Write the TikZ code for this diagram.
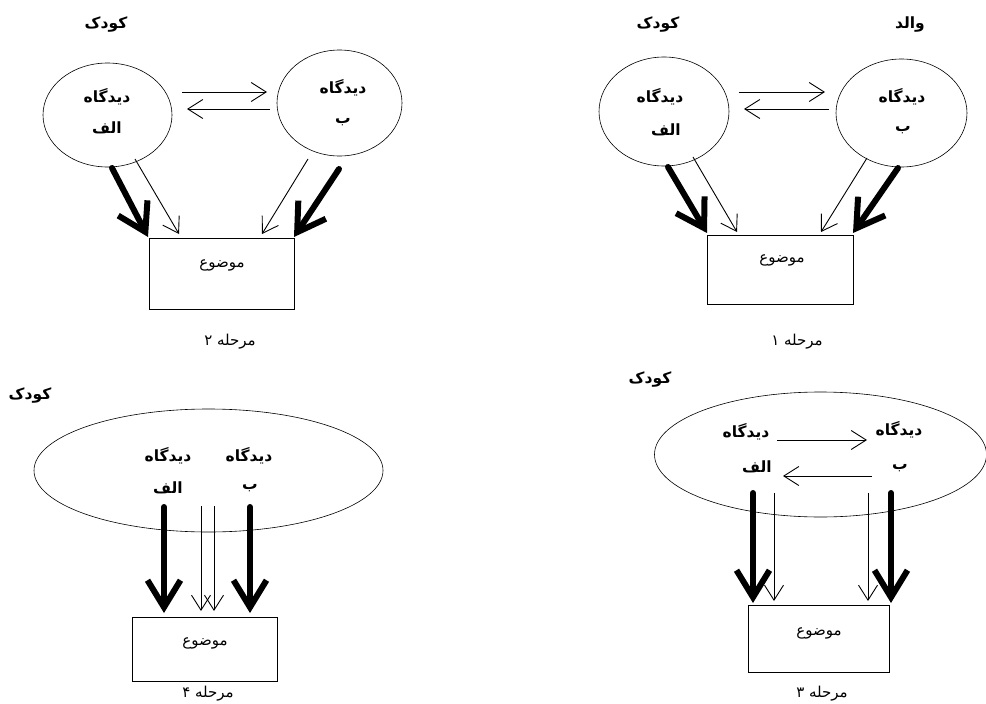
\documentclass[tikz,border=0pt]{standalone}
\usepackage{fontspec}
\newfontfamily\arabicfont[Script=Arabic]{DejaVu Sans}
\TeXXeTstate=1
\usetikzlibrary{arrows.meta,shapes.geometric}
\newcommand{\fatext}[1]{\arabicfont\beginR #1\endR}

\begin{document}
\begin{tikzpicture}[x=1pt,y=-1pt,
    thinarr/.style={line width=0.9pt,-{Straight Barb[length=15pt,width=19pt]}},
    thickarr/.style={line width=6pt,line cap=round,line join=round,
      -{Straight Barb[length=27pt,width=33pt]}}]

      \useasboundingbox (0,0) rectangle (986,704);

      \begin{scope}[every node/.style={ellipse,draw,line width=0.6pt,inner sep=0pt}]
        \node[minimum width=129pt,minimum height=104pt] (a2) at (107.5,115) {};
        \node[minimum width=125pt,minimum height=106pt] (b2) at (339.5,103) {};
        \node[minimum width=130pt,minimum height=109pt] (a1) at (664,111.5) {};
        \node[minimum width=131pt,minimum height=108pt] (b1) at (901.5,113) {};
        \node[minimum width=349pt,minimum height=123pt] (e4) at (208.5,470.5) {};
        \node[minimum width=332pt,minimum height=125pt] (e3) at (820.5,454.5) {};
      \end{scope}

      \begin{scope}[every node/.style={rectangle,draw,line width=0.6pt,inner sep=0pt}]
        \node[minimum width=145pt,minimum height=71pt] (o2) at (221.5,273.5) {};
        \node[minimum width=146pt,minimum height=69pt] (o1) at (780,269.5) {};
        \node[minimum width=145pt,minimum height=64pt] (o4) at (204.5,649) {};
        \node[minimum width=141pt,minimum height=67pt] (o3) at (818.5,638.5) {};
      \end{scope}

      \begin{scope}[every node/.style={inner sep=0pt,font=\bfseries\fontsize{15.5}{18}\selectfont}]
        \node (k2)  at (106,25)  {\fatext{کودک}};
        \node (k1)  at (658,25)  {\fatext{کودک}};
        \node (p1)  at (910,25)  {\fatext{والد}};
        \node (k4)  at (30,395)  {\fatext{کودک}};
        \node (k3)  at (650,380) {\fatext{کودک}};
        \node (va2) at (107,97)  {\fatext{دیدگاه}};
        \node (la2) at (107,128) {\fatext{الف}};
        \node (vb2) at (343,88)  {\fatext{دیدگاه}};
        \node (lb2) at (343,122) {\fatext{ب}};
        \node (va1) at (660,97)  {\fatext{دیدگاه}};
        \node (la1) at (666,130) {\fatext{الف}};
        \node (vb1) at (902,97)  {\fatext{دیدگاه}};
        \node (lb1) at (903,130) {\fatext{ب}};
        \node (va4) at (168,456) {\fatext{دیدگاه}};
        \node (la4) at (168,488) {\fatext{الف}};
        \node (vb4) at (249,456) {\fatext{دیدگاه}};
        \node (lb4) at (250,488) {\fatext{ب}};
        \node (va3) at (746,432) {\fatext{دیدگاه}};
        \node (la3) at (757,467) {\fatext{الف}};
        \node (vb3) at (899,430) {\fatext{دیدگاه}};
        \node (lb3) at (900,468) {\fatext{ب}};
      \end{scope}

      \begin{scope}[every node/.style={inner sep=0pt,font=\fontsize{15}{18}\selectfont}]
        \node (t2) at (222,265) {\fatext{موضوع}};
        \node (t1) at (782,260) {\fatext{موضوع}};
        \node (t4) at (205,643) {\fatext{موضوع}};
        \node (t3) at (819,633) {\fatext{موضوع}};
        \node (s2) at (230,342) {\fatext{مرحله ۲}};
        \node (s1) at (797,342) {\fatext{مرحله ۱}};
        \node (s4) at (208,694) {\fatext{مرحله ۴}};
        \node (s3) at (822,694) {\fatext{مرحله ۳}};
      \end{scope}

      \coordinate (h2a) at (182,92);   \coordinate (h2b) at (267,92);
      \coordinate (h2c) at (270,109);  \coordinate (h2d) at (187,109);
      \coordinate (h1a) at (739,92);   \coordinate (h1b) at (825,92);
      \coordinate (h1c) at (829,109);  \coordinate (h1d) at (744,109);
      \coordinate (h3a) at (777,440);  \coordinate (h3b) at (867,440);
      \coordinate (h3c) at (872,476);  \coordinate (h3d) at (783,476);

      \coordinate (ka2) at (112,168);  \coordinate (ke2) at (148,237);
      \coordinate (na2) at (135,159);  \coordinate (ne2) at (179,234);
      \coordinate (nb2) at (308,159);  \coordinate (nf2) at (262,234);
      \coordinate (kb2) at (339,169);  \coordinate (kf2) at (294,237);

      \coordinate (ka1) at (668,167);  \coordinate (ke1) at (707,233);
      \coordinate (na1) at (693,157);  \coordinate (ne1) at (737,232);
      \coordinate (nb1) at (867,158);  \coordinate (nf1) at (821,232);
      \coordinate (kb1) at (898,168);  \coordinate (kf1) at (853,233);

      \coordinate (ka4) at (164,507);  \coordinate (ke4) at (164,613);
      \coordinate (na4) at (201,506);  \coordinate (ne4) at (201,611);
      \coordinate (nb4) at (214,506);  \coordinate (nf4) at (214,611);
      \coordinate (kb4) at (250,507);  \coordinate (kf4) at (250,613);

      \coordinate (ka3) at (753,493);  \coordinate (ke3) at (753,603);
      \coordinate (na3) at (774,493);  \coordinate (ne3) at (774,601);
      \coordinate (nb3) at (868,493);  \coordinate (nf3) at (868,601);
      \coordinate (kb3) at (891,493);  \coordinate (kf3) at (891,603);

      \begin{scope}[every edge/.style={draw,thinarr}]
        \path (h2a) edge (h2b);
        \path (h2c) edge (h2d);
        \path (h1a) edge (h1b);
        \path (h1c) edge (h1d);
        \path (h3a) edge (h3b);
        \path (h3c) edge (h3d);
        \path (na2) edge (ne2);
        \path (nb2) edge (nf2);
        \path (na1) edge (ne1);
        \path (nb1) edge (nf1);
        \path (na4) edge (ne4);
        \path (nb4) edge (nf4);
        \path (na3) edge (ne3);
        \path (nb3) edge (nf3);
      \end{scope}

      \begin{scope}[every edge/.style={draw,thickarr}]
        \path (ka2) edge (ke2);
        \path (kb2) edge (kf2);
        \path (ka1) edge (ke1);
        \path (kb1) edge (kf1);
        \path (ka4) edge (ke4);
        \path (kb4) edge (kf4);
        \path (ka3) edge (ke3);
        \path (kb3) edge (kf3);
      \end{scope}

    \end{tikzpicture}
\end{document}
